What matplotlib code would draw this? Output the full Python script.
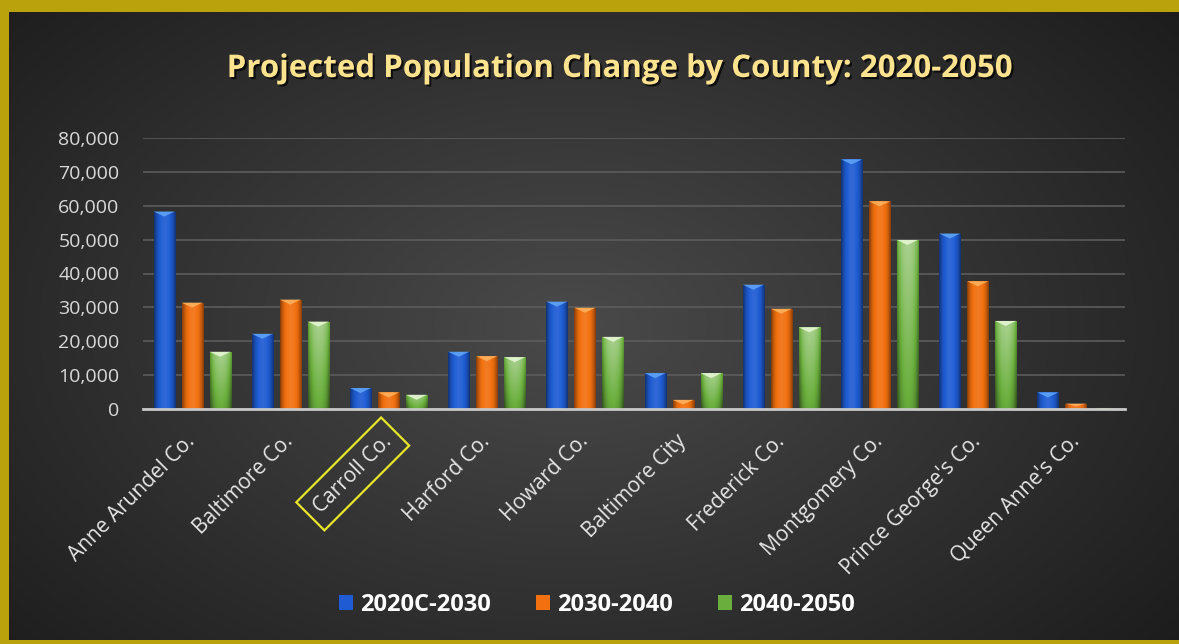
import matplotlib
matplotlib.use("Agg")
import matplotlib.pyplot as plt
import numpy as np
from matplotlib.colors import to_rgb
from matplotlib.patches import Patch, Polygon
import matplotlib.patheffects as pe

counties = ["Anne Arundel Co.", "Baltimore Co.", "Carroll Co.", "Harford Co.", "Howard Co.",
            "Baltimore City", "Frederick Co.", "Montgomery Co.", "Prince George's Co.", "Queen Anne's Co."]
series_names = ["2020C-2030", "2030-2040", "2040-2050"]
chg_2020_2030 = [58300, 22200, 6200, 16900, 31700, 10600, 36700, 73700, 51800, 4900]
chg_2030_2040 = [31400, 32300, 4900, 15600, 29900, 2700, 29600, 61300, 37700, 1600]
chg_2040_2050 = [16900, 25800, 4200, 15300, 21300, 10600, 24100, 49900, 26000, 300]
yticks = [0, 10000, 20000, 30000, 40000, 50000, 60000, 70000, 80000]

colors = ["#1F5CD3", "#F2700F", "#6AAF3D"]
caps = ["#5EA3F7", "#FFB15E", "#E4F5D2"]

W, H = 1179, 644
fig = plt.figure(figsize=(W / 100, H / 100), dpi=100)
fig.patch.set_facecolor("#B9A20C")

# dark gradient panel
bg = fig.add_axes([9 / W, 4 / H, (W - 9) / W, (H - 16) / H])
bg.set_axis_off()
yy, xx = np.mgrid[0:1:200j, 0:1:300j]
r = np.sqrt(((xx - 0.48) / 0.75) ** 2 + ((yy - 0.5) / 0.9) ** 2)
g = np.clip(0.29 - 0.2 * r, 0.09, 0.3)
bg.imshow(np.dstack([g, g, g]), aspect="auto", extent=[0, 1, 0, 1], interpolation="bicubic")
bg.set_xlim(0, 1)
bg.set_ylim(0, 1)

ax = fig.add_axes([143 / W, 1 - 409 / H, (1125 - 143) / W, (409 - 138) / H])
ax.set_facecolor("none")
ax.patch.set_alpha(0)

x = np.arange(len(counties))
bw = 0.214
offsets = [-0.285, 0, 0.285]
data = [chg_2020_2030, chg_2030_2040, chg_2040_2050]


def shade(c, f):
    c = np.array(to_rgb(c))
    return c + (1 - c) * f if f > 0 else c * (1 + f)


px_per_unit = 271 / 80000
for s, vals in enumerate(data):
    bars = ax.bar(x + offsets[s], vals, bw, color=colors[s], zorder=3, linewidth=0)
    # horizontal shading across each bar (green also fades lighter to the top)
    prof = np.linspace(-1, 1, 40)
    hf = -0.45 * np.abs(prof) ** 3 + 0.08 * (1 - np.abs(prof))
    nv = 30
    vf = np.linspace(0, 1, nv)
    img = np.zeros((nv, 40, 3))
    for j in range(40):
        for i in range(nv):
            f = hf[j]
            if s == 2:
                f = f + 0.45 * vf[i] - 0.1
            img[i, j] = shade(colors[s], float(np.clip(f, -0.9, 0.9)))
    for b in bars:
        x0, y0 = b.get_x(), b.get_y()
        w, h = b.get_width(), b.get_height()
        if h <= 0:
            continue
        im = ax.imshow(img, extent=[x0, x0 + w, y0, y0 + h], origin="lower",
                       aspect="auto", zorder=3.5, interpolation="bilinear")
        im.set_clip_path(b)
        th = min(5 / px_per_unit, h * 0.5)
        tri = Polygon([[x0, y0 + h], [x0 + w, y0 + h], [x0 + w / 2, y0 + h - th]],
                      closed=True, facecolor=caps[s], edgecolor="none", zorder=4, alpha=0.9)
        ax.add_patch(tri)

ax.set_xlim(-0.5, len(counties) - 0.5)
ax.set_ylim(0, 80000)
ax.set_yticks(yticks)
ax.set_yticklabels([f"{v:,}" for v in yticks])
ax.grid(axis="y", color="#5C5C5C", linewidth=1.2, zorder=0)
ax.set_axisbelow(True)
for sp in ["top", "right", "left"]:
    ax.spines[sp].set_visible(False)
ax.spines["bottom"].set_color("#C8C8C8")
ax.spines["bottom"].set_linewidth(2)
ax.spines["bottom"].set_zorder(5)
ax.tick_params(axis="y", length=0, pad=17, labelsize=14, labelcolor="#D9D9D9")
ax.tick_params(axis="x", length=0, pad=21)
ax.set_xticks(x)
ax.set_xticklabels(counties, rotation=45, ha="right", va="center", rotation_mode="anchor",
                   fontsize=15, color="#E6E6E6")
for lab in ax.get_yticklabels() + ax.get_xticklabels():
    lab.set_fontfamily("Open Sans")
carroll = ax.get_xticklabels()[2]
carroll.set_bbox(dict(boxstyle="square,pad=0.45", facecolor="none", edgecolor="#E8E62A", linewidth=1.6))

fig.text(620 / W, 1 - 77 / H, "Projected Population Change by County: 2020-2050",
         ha="center", va="baseline", fontsize=22.5, fontweight="bold", fontfamily="Open Sans",
         color="#FFE38F",
         path_effects=[pe.withSimplePatchShadow(offset=(1.5, -1.5), shadow_rgbFace="black", alpha=0.7)])

handles = [Patch(facecolor=colors[i], edgecolor="none", label=series_names[i]) for i in range(3)]
leg = fig.legend(handles=handles, loc="center", bbox_to_anchor=(597 / W, 1 - 605 / H), ncol=3,
                 frameon=False, handlelength=0.6, handleheight=0.6, handletextpad=0.3,
                 columnspacing=1.9, prop={"family": "Open Sans", "weight": "bold", "size": 17})
for t in leg.get_texts():
    t.set_color("white")

fig.savefig("out.png", dpi=100, facecolor=fig.get_facecolor())
